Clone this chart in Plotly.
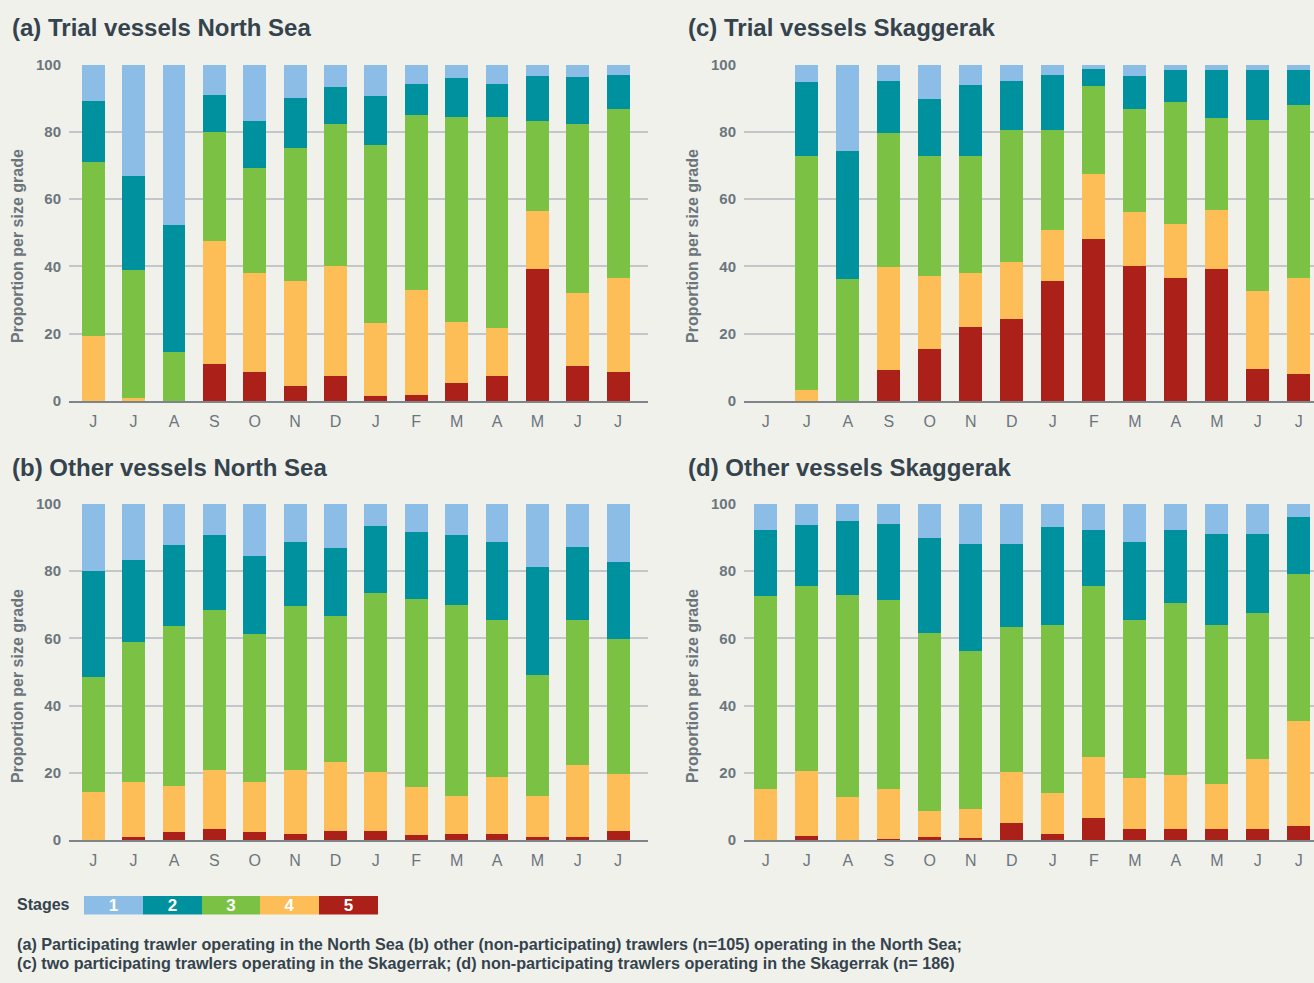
import plotly.graph_objects as go

W, H = 1314, 983

months = ["J", "J", "A", "S", "O", "N", "D", "J", "F", "M", "A", "M", "J", "J"]
stages = ["1", "2", "3", "4", "5"]
stage_colors = ["#8bbde6", "#00919f", "#7bc143", "#fdbd57", "#ab2018"]

# (a) Trial vessels North Sea
a_s1 = [10.8, 33.1, 47.7, 9.0, 16.7, 9.9, 6.6, 9.3, 5.5, 4.0, 5.5, 3.4, 3.7, 3.1]
a_s2 = [18.1, 27.9, 37.7, 11.0, 14.0, 14.9, 11.0, 14.6, 9.5, 11.6, 10.1, 13.3, 13.9, 10.1]
a_s3 = [51.7, 38.1, 14.6, 32.4, 31.2, 39.5, 42.3, 52.9, 52.0, 60.9, 62.7, 26.8, 50.3, 50.2]
a_s4 = [19.4, 0.9, 0.0, 36.6, 29.5, 31.2, 32.7, 21.7, 31.2, 18.1, 14.3, 17.3, 21.7, 28.0]
a_s5 = [0.0, 0.0, 0.0, 11.0, 8.6, 4.5, 7.4, 1.5, 1.8, 5.4, 7.4, 39.2, 10.4, 8.6]

# (b) Other vessels North Sea
b_s1 = [19.9, 16.7, 12.2, 9.2, 15.5, 11.3, 13.1, 6.5, 8.3, 9.2, 11.3, 18.7, 12.8, 17.3]
b_s2 = [31.6, 24.4, 24.1, 22.3, 23.2, 19.1, 20.2, 20.0, 20.0, 20.9, 23.2, 32.2, 21.7, 22.9]
b_s3 = [34.2, 41.6, 47.6, 47.7, 44.0, 48.8, 43.5, 53.3, 55.9, 56.8, 46.7, 36.0, 43.2, 40.2]
b_s4 = [14.3, 16.4, 13.7, 17.5, 14.9, 19.0, 20.5, 17.5, 14.3, 11.3, 17.0, 12.2, 21.4, 16.9]
b_s5 = [0.0, 0.9, 2.4, 3.3, 2.4, 1.8, 2.7, 2.7, 1.5, 1.8, 1.8, 0.9, 0.9, 2.7]

# (c) Trial vessels Skaggerak
c_s1 = [0.0, 5.2, 25.7, 4.9, 10.2, 6.0, 4.9, 3.1, 1.3, 3.4, 1.6, 1.6, 1.6, 1.6]
c_s2 = [0.0, 22.0, 38.0, 15.4, 17.0, 21.2, 14.5, 16.3, 5.0, 9.8, 9.5, 14.3, 14.9, 10.4]
c_s3 = [0.0, 69.5, 36.3, 39.9, 35.6, 34.7, 39.3, 29.8, 26.2, 30.6, 36.3, 27.3, 50.8, 51.4]
c_s4 = [0.0, 3.3, 0.0, 30.6, 21.7, 16.1, 16.9, 15.1, 19.3, 16.1, 16.0, 17.6, 23.2, 28.6]
c_s5 = [0.0, 0.0, 0.0, 9.2, 15.5, 22.0, 24.4, 35.7, 48.2, 40.1, 36.6, 39.2, 9.5, 8.0]

# (d) Other vessels Skaggerak
d_s1 = [7.7, 6.2, 5.1, 6.0, 10.1, 11.9, 11.9, 6.8, 7.7, 11.3, 7.7, 8.9, 8.9, 3.9]
d_s2 = [19.7, 18.2, 22.0, 22.6, 28.3, 31.9, 24.7, 29.2, 16.7, 23.2, 21.8, 27.1, 23.5, 16.9]
d_s3 = [57.4, 55.1, 60.1, 56.2, 53.0, 47.0, 43.2, 50.0, 50.9, 47.0, 51.2, 47.3, 43.5, 43.8]
d_s4 = [15.2, 19.3, 12.8, 14.9, 7.7, 8.6, 15.1, 12.2, 18.2, 15.2, 16.0, 13.4, 20.8, 31.2]
d_s5 = [0.0, 1.2, 0.0, 0.3, 0.9, 0.6, 5.1, 1.8, 6.5, 3.3, 3.3, 3.3, 3.3, 4.2]

panel_titles = ["(a) Trial vessels North Sea", "(b) Other vessels North Sea",
                "(c) Trial vessels Skaggerak", "(d) Other vessels Skaggerak"]
y_title = "Proportion per size grade"
legend_title = "Stages"
footnote_1 = ("(a) Participating trawler operating in the North Sea (b) other (non-participating) "
              "trawlers (n=105) operating in the North Sea;")
footnote_2 = ("(c) two participating trawlers operating in the Skagerrak; (d) non-participating "
              "trawlers operating in the Skagerrak (n= 186)")

panels = [
    (a_s1, a_s2, a_s3, a_s4, a_s5),
    (b_s1, b_s2, b_s3, b_s4, b_s5),
    (c_s1, c_s2, c_s3, c_s4, c_s5),
    (d_s1, d_s2, d_s3, d_s4, d_s5),
]

BG = "#f1f1ec"
TITLE_C = "#34434c"
TICK_C = "#6b757c"
GRID_C = "#c4c7ca"
FONT = "Liberation Sans"

def px_x(p):
    return p / W

def px_y(p):
    return 1 - p / H

# pixel geometry of plot areas
left_x = [(69, 648), (69, 648), (744, 1314), (744, 1314)]
top_y = [(64.7, 401), (504, 840), (64.7, 401), (504, 840)]
x_ranges = [[-0.6, 13.74], [-0.6, 13.74], [-0.53, 13.37], [-0.53, 13.37]]

fig = go.Figure()
layout = {}
xs = list(range(len(months)))

for i, (vals, (x0, x1), (y0, y1), xr) in enumerate(zip(panels, left_x, top_y, x_ranges)):
    n = "" if i == 0 else str(i + 1)
    for s, (name, col) in enumerate(zip(stages[::-1], stage_colors[::-1])):
        v = vals[4 - s]
        fig.add_trace(go.Bar(
            x=xs, y=v, name=name, marker=dict(color=col, line=dict(width=0)),
            width=0.565, xaxis="x" + n, yaxis="y" + n, showlegend=False,
        ))
    layout["xaxis" + n] = dict(
        domain=[px_x(x0), px_x(x1)], range=xr, anchor="y" + n,
        tickmode="array", tickvals=xs, ticktext=months, automargin=False,
        showgrid=False, zeroline=False, showline=True, linecolor="#7e858a", linewidth=2,
        ticks="outside", ticklen=5, tickcolor="rgba(0,0,0,0)",
        tickfont=dict(family=FONT, size=16, color=TICK_C), fixedrange=True,
    )
    layout["yaxis" + n] = dict(
        domain=[px_y(y1), px_y(y0)], range=[0, 100], anchor="x" + n,
        tickmode="array", tickvals=[0, 20, 40, 60, 80, 100], automargin=False,
        showgrid=True, gridcolor=GRID_C, gridwidth=2, zeroline=False,
        showline=False, ticks="outside", ticklen=4, tickcolor="rgba(0,0,0,0)",
        tickfont=dict(family=FONT, size=15, color=TICK_C, weight="bold"), fixedrange=True,
    )

# legend drawn as a stacked horizontal bar on its own axis
for name, col in zip(stages, stage_colors):
    fig.add_trace(go.Bar(
        x=[1], y=[0], orientation="h", text=[name], textposition="inside",
        insidetextanchor="middle", textangle=0, constraintext="none",
        textfont=dict(family=FONT, size=17, color="white", weight="bold"),
        marker=dict(color=col, line=dict(width=0)), width=1,
        xaxis="x5", yaxis="y5", showlegend=False, hoverinfo="skip",
    ))
layout["xaxis5"] = dict(domain=[px_x(84), px_x(378)], range=[0, 5], visible=False,
                        anchor="y5", fixedrange=True, automargin=False)
layout["yaxis5"] = dict(domain=[px_y(914.5), px_y(896)], range=[-0.5, 0.5], visible=False,
                        anchor="x5", fixedrange=True, automargin=False)

annotations = []
title_pos = [(10, 27), (10, 467), (686, 27), (686, 467)]
for t, (tx, ty) in zip(panel_titles, title_pos):
    annotations.append(dict(
        text=t, x=px_x(tx), y=px_y(ty), xref="paper", yref="paper",
        xanchor="left", yanchor="middle", showarrow=False,
        font=dict(family=FONT, size=24, color=TITLE_C, weight="bold"),
    ))
ytitle_pos = [(17, 246), (17, 686), (692, 246), (692, 686)]
for tx, ty in ytitle_pos:
    annotations.append(dict(
        text=y_title, x=px_x(tx), y=px_y(ty), xref="paper", yref="paper",
        xanchor="center", yanchor="middle", textangle=-90, showarrow=False,
        font=dict(family=FONT, size=16, color=TICK_C, weight="bold"),
    ))
annotations.append(dict(
    text=legend_title, x=px_x(15), y=px_y(904), xref="paper", yref="paper",
    xanchor="left", yanchor="middle", showarrow=False,
    font=dict(family=FONT, size=16, color=TITLE_C, weight="bold"),
))
for txt, ty in [(footnote_1, 944), (footnote_2, 963)]:
    annotations.append(dict(
        text=txt, x=px_x(15), y=px_y(ty), xref="paper", yref="paper",
        xanchor="left", yanchor="middle", showarrow=False,
        font=dict(family=FONT, size=16.2, color=TITLE_C, weight="bold"),
    ))

fig.update_layout(
    width=W, height=H, autosize=False,
    margin=dict(l=0, r=0, t=0, b=0, pad=0, autoexpand=False),
    paper_bgcolor=BG, plot_bgcolor=BG, barmode="stack", bargap=0,
    annotations=annotations, showlegend=False, hovermode=False,
    font=dict(family=FONT), **layout,
)

post = (
    "document.documentElement.style.margin='0';"
    "document.body.style.margin='0';document.body.style.padding='0';"
    "document.body.style.overflow='hidden';"
    "document.body.style.background='" + BG + "';"
)

fig.write_html(
    "out.html",
    config={"displayModeBar": False, "responsive": False},
    post_script=post,
)
